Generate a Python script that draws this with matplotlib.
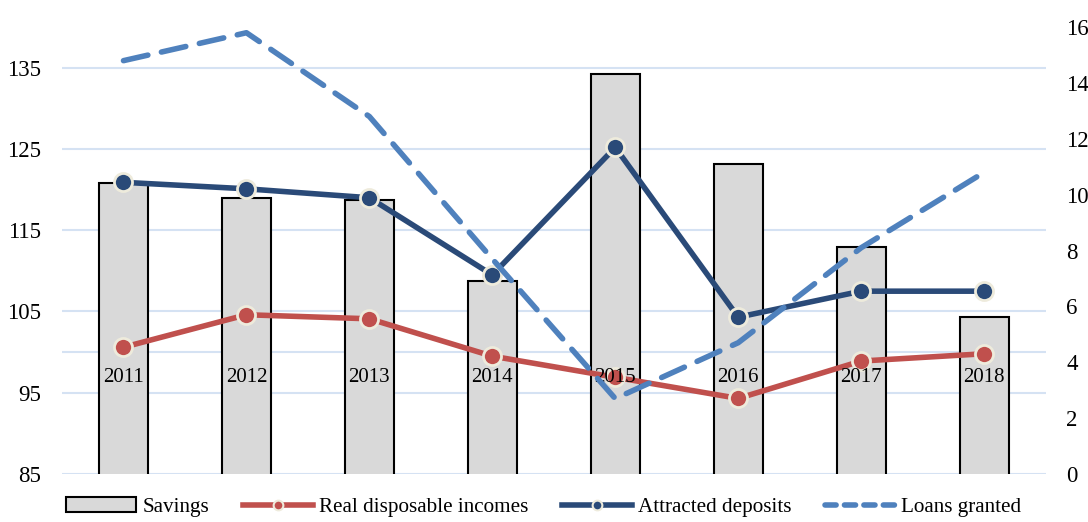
import numpy as np
import matplotlib.pyplot as plt
from matplotlib.patches import Patch
from matplotlib.lines import Line2D

plt.rcParams['font.family'] = ['Liberation Serif', 'DejaVu Serif']

# Data
years = ['2011', '2012', '2013', '2014', '2015', '2016', '2017', '2018']
savings = [120.8, 119.0, 118.7, 108.7, 134.2, 123.2, 112.9, 104.3]
real_incomes = [100.6, 104.6, 104.1, 99.5, 96.9, 94.3, 98.9, 99.8]
deposits = [120.9, 120.1, 119.0, 109.5, 125.2, 104.3, 107.5, 107.5]
loans = [14.8, 15.8, 12.8, 7.7, 2.7, 4.7, 8.1, 10.8]

left_ticks = [85, 95, 105, 115, 125, 135]
right_ticks = [0, 2, 4, 6, 8, 10, 12, 14, 16]

red = '#C0504D'
navy = '#2A4A78'
lblue = '#4F81BD'
grid_c = '#D5E2F3'
edge_c = '#EEEBDC'

x = np.arange(len(years))

fig = plt.figure(figsize=(10.88, 5.22), dpi=100)
ax = fig.add_axes([0.057, 0.092, 0.904, 0.856])
ax2 = ax.twinx()

# gridlines plus the category axis line at 100
for v in left_ticks + [100]:
    ax.axhline(v, color=grid_c, lw=1.5, zorder=0)

ax.bar(x, savings, width=0.4, bottom=0, color='#D9D9D9', edgecolor='black', lw=1.5, zorder=2)
ax.plot(x, real_incomes, color=red, lw=4, marker='o', ms=13, mfc=red,
        mec=edge_c, mew=2, zorder=3)
ax.plot(x, deposits, color=navy, lw=4, marker='o', ms=13, mfc=navy,
        mec=edge_c, mew=2, zorder=3)
ax2.plot(x, loans, color=lblue, lw=4, ls=(0, (4.5, 2.5)), dash_capstyle='round', zorder=4)

for xi, yr in zip(x, years):
    ax.text(xi, 96.9, yr, ha='center', va='center', fontsize=15, zorder=5)

ax.set_xlim(-0.5, 7.5)
ax.set_ylim(85, 140)
ax2.set_ylim(0, 16)
ax.set_yticks(left_ticks)
ax2.set_yticks(right_ticks)
ax.set_xticks([])
ax.tick_params(axis='y', length=0, labelsize=16.5, pad=15)
ax2.tick_params(axis='y', length=0, labelsize=16.5, pad=15)
for a in (ax, ax2):
    for s in a.spines.values():
        s.set_visible(False)

handles = [
    Patch(facecolor='#D9D9D9', edgecolor='black', lw=1.5),
    Line2D([], [], color=red, lw=4, marker='o', ms=7, mfc=red, mec=edge_c, mew=1.5),
    Line2D([], [], color=navy, lw=4, marker='o', ms=7, mfc=navy, mec=edge_c, mew=1.5),
    Line2D([], [], color=lblue, lw=4, ls=(0, (2, 1.5)), dash_capstyle='round'),
]
labels = ['Savings', 'Real disposable incomes', 'Attracted deposits', 'Loans granted']
fig.legend(handles, labels, loc='center', bbox_to_anchor=(0.5, 0.028), ncol=4,
           frameon=False, fontsize=15.2, handlelength=3.3, handletextpad=0.3,
           columnspacing=1.6, borderpad=0.1)

fig.savefig('out.png', dpi=100)
